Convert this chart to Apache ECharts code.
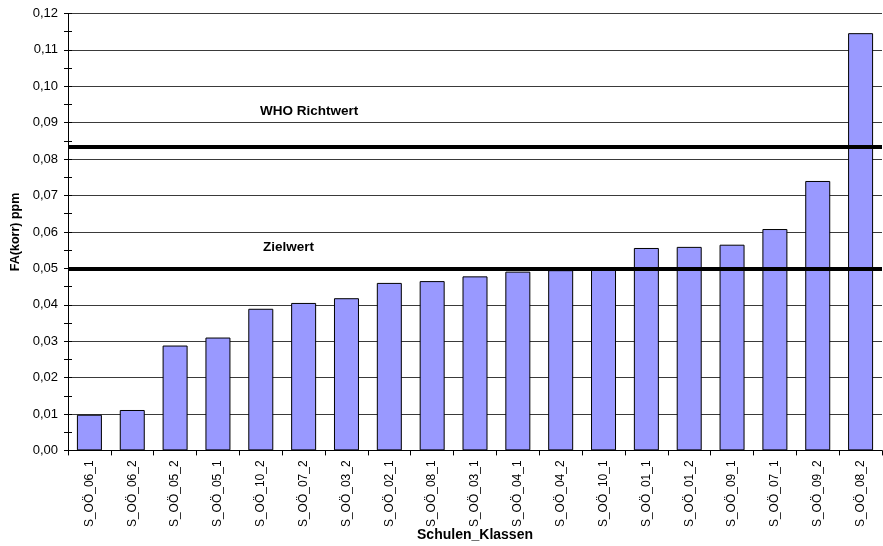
<!DOCTYPE html>
<html>
<head>
<meta charset="utf-8">
<script src="https://cdn.jsdelivr.net/npm/echarts@6/dist/echarts.min.js"></script>
<style>
  html, body { margin: 0; padding: 0; background: #fff; }
  #chart { width: 883px; height: 546px; }
</style>
</head>
<body>
<div id="chart"></div>
<script>
// Schulen/Klassen, aufsteigend nach Formaldehyd-Konzentration sortiert
const klassen = [
  'S_OÖ_06_1', 'S_OÖ_06_2', 'S_OÖ_05_2', 'S_OÖ_05_1', 'S_OÖ_10_2',
  'S_OÖ_07_2', 'S_OÖ_03_2', 'S_OÖ_02_1', 'S_OÖ_08_1', 'S_OÖ_03_1',
  'S_OÖ_04_1', 'S_OÖ_04_2', 'S_OÖ_10_1', 'S_OÖ_01_1', 'S_OÖ_01_2',
  'S_OÖ_09_1', 'S_OÖ_07_1', 'S_OÖ_09_2', 'S_OÖ_08_2'
];
// FA(korr) in ppm
const faKorr = [
  0.0098, 0.0111, 0.0288, 0.0310, 0.0389,
  0.0405, 0.0418, 0.0460, 0.0465, 0.0478,
  0.0491, 0.0495, 0.0501, 0.0556, 0.0559,
  0.0565, 0.0608, 0.0740, 0.1146
];
// Grenz-/Zielwerte
const whoRichtwert = 0.0833;
const zielwert = 0.05;
// Achse
const yMin = 0, yMax = 0.12, yStep = 0.01;

const fmt = v => v.toFixed(2).replace('.', ',');
const font = 'Liberation Sans, Arial, sans-serif';

const chart = echarts.init(document.getElementById('chart'));
chart.setOption({
  animation: false,
  backgroundColor: '#fff',
  grid: { left: 68, right: 1, top: 13.5, bottom: 95.6, containLabel: false, outerBoundsMode: 'none' },
  xAxis: {
    type: 'category',
    data: klassen,
    boundaryGap: true,
    name: 'Schulen_Klassen',
    nameLocation: 'middle',
    nameGap: 78,
    nameMoveOverlap: false,
    nameTextStyle: { fontFamily: font, fontSize: 14, fontWeight: 'bold', color: '#000' },
    axisLine: { lineStyle: { color: '#000', width: 1 } },
    axisTick: { show: true, length: 5, lineStyle: { color: '#000' } },
    axisLabel: { rotate: 90, interval: 0, margin: 10, fontFamily: font, fontSize: 12, color: '#000' },
    splitLine: { show: false }
  },
  yAxis: [{
    type: 'value',
    min: yMin, max: yMax, interval: yStep,
    name: 'FA(korr) ppm',
    nameLocation: 'middle',
    nameGap: 46,
    nameRotate: 90,
    nameMoveOverlap: false,
    nameTextStyle: { fontFamily: font, fontSize: 12.5, fontWeight: 'bold', color: '#000' },
    axisLine: { show: true, lineStyle: { color: '#000', width: 1 } },
    axisTick: { show: true, length: 4, lineStyle: { color: '#000' } },
    minorTick: { show: true, splitNumber: 2, length: 4, lineStyle: { color: '#000' } },
    axisLabel: { formatter: fmt, margin: 10, fontFamily: font, fontSize: 13, color: '#000' },
    splitLine: { show: true, lineStyle: { color: '#3a3a3a', width: 1 } }
  }, {
    // Innenliegende Teilstriche
    type: 'value',
    position: 'left',
    min: yMin, max: yMax, interval: yStep,
    axisLine: { show: false },
    axisTick: { show: true, inside: true, length: 4, lineStyle: { color: '#000' } },
    minorTick: { show: true, splitNumber: 2, length: 4, lineStyle: { color: '#000' } },
    axisLabel: { show: false },
    splitLine: { show: false }
  }],
  series: [{
    type: 'bar',
    data: faKorr,
    barWidth: 25,
    itemStyle: { color: '#9999FF', borderColor: '#000', borderWidth: 1 },
    markLine: {
      silent: true,
      symbol: 'none',
      precision: 4,
      label: { show: false },
      lineStyle: { color: '#000', width: 4, type: 'solid' },
      data: [{ yAxis: whoRichtwert }, { yAxis: zielwert }]
    }
  }],
  graphic: [
    { type: 'text', left: 260, top: 104,
      style: { text: 'WHO Richtwert', font: 'bold 13.5px ' + font, fill: '#000' } },
    { type: 'text', left: 263, top: 240,
      style: { text: 'Zielwert', font: 'bold 13.5px ' + font, fill: '#000' } }
  ]
});
</script>
</body>
</html>
